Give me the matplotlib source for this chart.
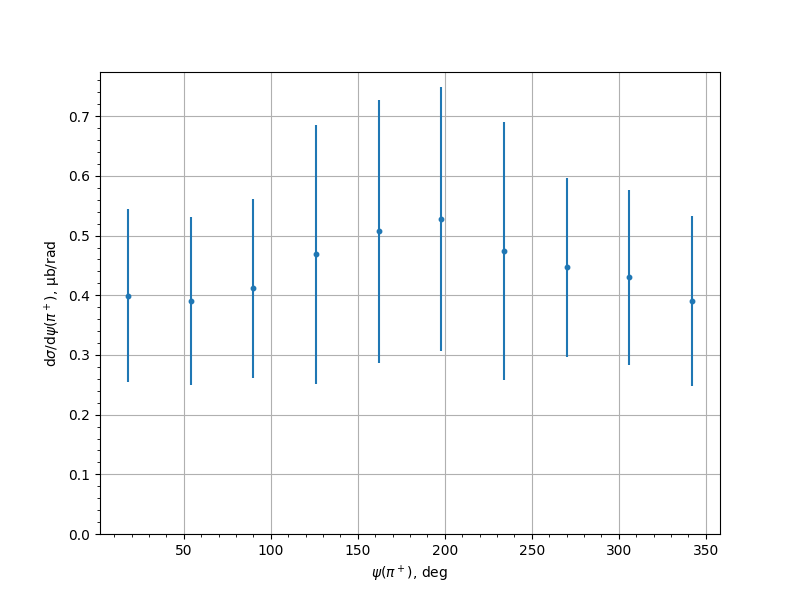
import numpy as np
import matplotlib
matplotlib.use('Agg')
import matplotlib.pyplot as plt
from matplotlib.ticker import AutoMinorLocator

# angle bins, cross section, errors
psi = [18, 54, 90, 126, 162, 198, 234, 270, 306, 342]
xsec = [0.399, 0.390, 0.412, 0.469, 0.507, 0.528, 0.474, 0.447, 0.430, 0.390]
err = [0.145, 0.141, 0.150, 0.217, 0.220, 0.221, 0.216, 0.150, 0.147, 0.142]

fig = plt.figure(figsize=(8, 6), dpi=100)
ax = fig.add_subplot(111)

ax.errorbar(psi, xsec, yerr=err, fmt='o', ms=3.2)
ax.set_ylim(bottom=0)
ax.xaxis.set_minor_locator(AutoMinorLocator())
ax.yaxis.set_minor_locator(AutoMinorLocator())
ax.grid(True)

ax.set_xlabel(r'$\psi(\pi^+)$, deg')
ax.set_ylabel(r'd$\sigma$/d$\psi(\pi^+)$, μb/rad')

plt.savefig('out.png')
